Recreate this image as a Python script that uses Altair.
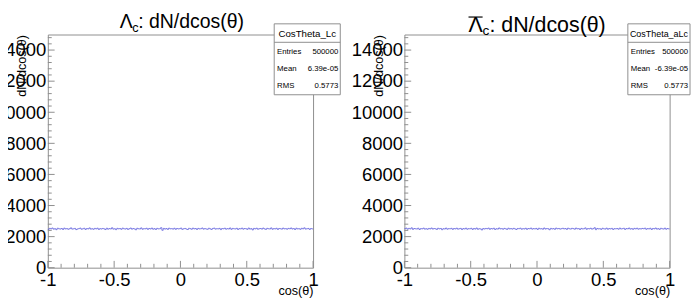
import altair as alt
import pandas as pd

# ---------------- data ----------------
# bin contents of the two cos(theta) histograms (200 bins over [-1, 1])
lc_counts = [
    2468, 2531, 2497, 2552, 2479, 2510, 2446, 2538, 2503, 2487, 2521, 2459, 2544, 2492, 2515, 2473, 2506, 2561, 2484, 2499,
    2527, 2452, 2490, 2513, 2548, 2476, 2502, 2535, 2461, 2519, 2494, 2557, 2481, 2508, 2470, 2529, 2496, 2542, 2463, 2511,
    2488, 2524, 2501, 2455, 2539, 2478, 2516, 2493, 2566, 2483, 2507, 2449, 2532, 2498, 2520, 2471, 2545, 2505, 2486, 2528,
    2462, 2509, 2550, 2480, 2517, 2495, 2441, 2534, 2504, 2489, 2558, 2474, 2512, 2500, 2537, 2466, 2523, 2491, 2547, 2477,
    2514, 2458, 2530, 2496, 2505, 2572, 2408, 2526, 2485, 2518, 2464, 2541, 2499, 2511, 2482, 2536, 2470, 2522, 2493, 2508,
    2549, 2467, 2503, 2525, 2487, 2456, 2533, 2510, 2475, 2543, 2497, 2519, 2460, 2528, 2494, 2506, 2553, 2481, 2516, 2490,
    2472, 2537, 2501, 2462, 2524, 2546, 2483, 2509, 2495, 2530, 2451, 2518, 2502, 2540, 2477, 2513, 2489, 2555, 2468, 2526,
    2504, 2492, 2535, 2460, 2515, 2498, 2544, 2479, 2521, 2507, 2469, 2551, 2486, 2512, 2432, 2527, 2496, 2539, 2474, 2509,
    2520, 2483, 2547, 2499, 2465, 2531, 2505, 2490, 2558, 2473, 2516, 2494, 2536, 2461, 2522, 2508, 2481, 2545, 2497, 2513,
    2476, 2529, 2502, 2554, 2488, 2517, 2457, 2540, 2493, 2511, 2470, 2533, 2499, 2562, 2484, 2506, 2525, 2463, 2519, 2495,
]
alc_counts = [
    2512, 2547, 2478, 2530, 2495, 2563, 2466, 2521, 2503, 2488, 2539, 2457, 2516, 2498, 2544, 2481, 2509, 2472, 2526, 2493,
    2551, 2484, 2519, 2505, 2462, 2536, 2497, 2523, 2445, 2510, 2489, 2548, 2476, 2514, 2501, 2532, 2467, 2520, 2494, 2541,
    2479, 2507, 2528, 2455, 2517, 2491, 2543, 2474, 2512, 2499, 2534, 2463, 2522, 2486, 2550, 2470, 2508, 2496, 2429, 2515,
    2488, 2525, 2503, 2546, 2471, 2518, 2492, 2537, 2460, 2509, 2484, 2555, 2497, 2513, 2476, 2529, 2501, 2465, 2540, 2490,
    2516, 2482, 2531, 2498, 2458, 2524, 2506, 2543, 2475, 2511, 2489, 2536, 2467, 2520, 2502, 2549, 2480, 2514, 2493, 2527,
    2461, 2539, 2496, 2510, 2474, 2553, 2487, 2519, 2505, 2442, 2528, 2491, 2515, 2470, 2546, 2500, 2523, 2483, 2507, 2535,
    2494, 2520, 2466, 2541, 2503, 2486, 2532, 2511, 2477, 2548, 2499, 2515, 2458, 2527, 2490, 2506, 2559, 2472, 2518, 2497,
    2539, 2481, 2512, 2570, 2448, 2524, 2495, 2509, 2467, 2536, 2502, 2485, 2544, 2473, 2517, 2493, 2528, 2460, 2513, 2498,
    2522, 2476, 2547, 2491, 2508, 2535, 2463, 2519, 2500, 2552, 2484, 2514, 2469, 2531, 2496, 2540, 2479, 2511, 2489, 2526,
    2505, 2544, 2471, 2517, 2493, 2538, 2459, 2523, 2498, 2550, 2482, 2512, 2466, 2534, 2502, 2487, 2545, 2475, 2520, 2496,
]

x_range = [-1, 1]
y_range = [0, 15000]
x_major = [-1, -0.5, 0, 0.5, 1]
x_minor = [-0.9, -0.8, -0.7, -0.6, -0.4, -0.3, -0.2, -0.1, 0.1, 0.2, 0.3, 0.4, 0.6, 0.7, 0.8, 0.9]
y_major = [0, 2000, 4000, 6000, 8000, 10000, 12000, 14000]
y_minor = [v for v in range(400, 15000, 400) if v % 2000 != 0]

stat_labels = "Entries\nMean\nRMS"
lc_stats = "500000\n6.39e-05\n0.5773"
alc_stats = "500000\n-6.39e-05\n0.5773"

# ---------------- style ----------------
W, H = 273, 240
FONT = "Liberation Sans"
LINE = "#5c5cdc"
FRAME = "#8c8c8c"
TXT = "#000000"

xs = alt.Scale(domain=x_range, nice=False, zero=False)
ys = alt.Scale(domain=y_range, nice=False, zero=False)
one = pd.DataFrame({"k": [0]})

x_axis = alt.Axis(
    values=x_major, labelExpr="datum.value < 0 ? '-' + abs(datum.value) : '' + datum.value",
    title="cos(θ)",
    titleX=W, titleY=27.5, titleAlign="right", titleAnchor="end", titleBaseline="alphabetic",
    titleFont=FONT, titleFontSize=13, titleFontWeight="normal", titleColor=TXT,
    labelFont=FONT, labelFontSize=19, labelColor=TXT, labelPadding=3, labelFlush=False,
    labelOverlap=False, ticks=False, tickSize=0, domain=False, grid=False)
y_axis = alt.Axis(
    values=y_major, format="d", title="dN/dcos(θ)",
    titleX=-22.5, titleY=0, titleAngle=270, titleAlign="right", titleBaseline="alphabetic",
    titleFont=FONT, titleFontSize=13, titleFontWeight="normal", titleColor=TXT,
    labelFont=FONT, labelFontSize=19, labelColor=TXT, labelPadding=2, labelFlush=False,
    labelOverlap=False, ticks=False, tickSize=0, domain=False, grid=False)


def hist_df(counts):
    edges = [round(x_range[0] + i * (x_range[1] - x_range[0]) / len(counts), 4) for i in range(len(counts) + 1)]
    return pd.DataFrame({"x": edges, "n": counts + [counts[-1]]})


def txt(text, x, y, size, align="left"):
    return alt.Chart(one).mark_text(
        text=text, font=FONT, fontSize=size, color=TXT, align=align, baseline="alphabetic",
        lineBreak="\n", lineHeight=17.5,
    ).encode(x=alt.value(x), y=alt.value(y))


def panel(counts, stat_name, stat_size, stat_vals, title_layers, box_x):
    line = alt.Chart(hist_df(counts)).mark_line(
        interpolate="step-after", color=LINE, strokeWidth=0.8
    ).encode(
        x=alt.X("x:Q", scale=xs, axis=x_axis),
        y=alt.Y("n:Q", scale=ys, axis=y_axis),
    )

    def xticks(vals, ln):
        return alt.Chart(pd.DataFrame({"x": vals})).mark_rule(color=FRAME, strokeWidth=1).encode(
            x=alt.X("x:Q", scale=xs, axis=x_axis), y=alt.value(H), y2=alt.value(H - ln))

    def yticks(vals, ln):
        return alt.Chart(pd.DataFrame({"n": vals})).mark_rule(color=FRAME, strokeWidth=1).encode(
            y=alt.Y("n:Q", scale=ys, axis=y_axis), x=alt.value(0), x2=alt.value(ln))

    bx0, bx1 = box_x
    box = alt.Chart(one).mark_rect(fill="white", stroke=FRAME, strokeWidth=1).encode(
        x=alt.value(bx0), x2=alt.value(bx1), y=alt.value(-11), y2=alt.value(62))
    sep = alt.Chart(one).mark_rule(color=FRAME, strokeWidth=1).encode(
        x=alt.value(bx0), x2=alt.value(bx1), y=alt.value(8))
    stitle = txt(stat_name, (bx0 + bx1) / 2, 3, stat_size, "center")
    slabels = txt(stat_labels, bx0 + 3, 20.5, 8, "left")
    svals = txt(stat_vals, bx1 - 2, 20.5, 8, "right")

    return alt.layer(
        line, xticks(x_major, 7), xticks(x_minor, 4), yticks(y_major, 7), yticks(y_minor, 4),
        box, sep, stitle, slabels, svals, *title_layers,
    ).properties(width=W, height=H)


left_title = [
    txt("Λ", 74, -7, 20),
    txt("c", 87, -3, 13),
    txt(": dN/dcos(θ)", 93, -7, 20),
]
right_title = [
    txt("Λ", 66, -3, 22),
    alt.Chart(one).mark_rule(color=TXT, strokeWidth=1.2).encode(
        x=alt.value(66), x2=alt.value(80.5), y=alt.value(-18)),
    txt("c", 80.5, 1, 14),
    txt(": dN/dcos(θ)", 87.5, -3, 22),
]

left = panel(lc_counts, "CosTheta_Lc", 10, lc_stats, left_title, (233, 301))
right = panel(alc_counts, "CosTheta_aLc", 9.2, alc_stats, right_title, (230, 294))

chart = alt.hconcat(left, right, spacing=94, bounds="flush").properties(
    padding={"left": -15, "top": -1, "right": 0, "bottom": 0}
).configure_view(stroke=FRAME, strokeWidth=1)

chart.save("out.html", embed_options={"renderer": "svg", "actions": False})
